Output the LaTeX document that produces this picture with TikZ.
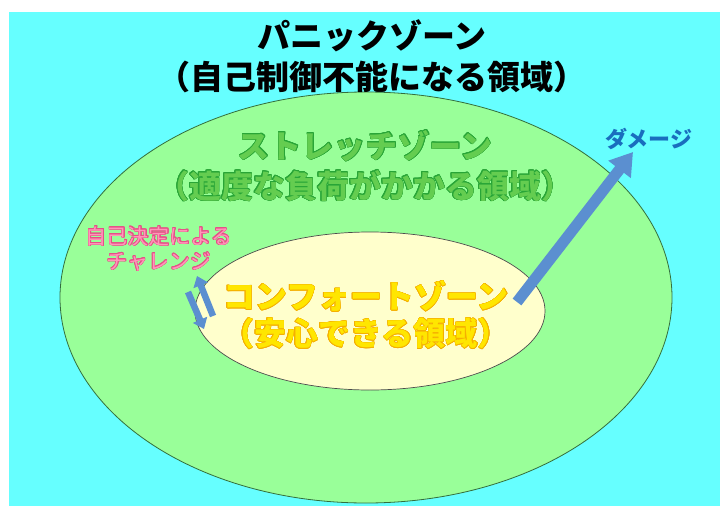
\documentclass[tikz,border=0pt]{standalone}
\usepackage{fontspec}
\usepackage[copies]{contour}
\usetikzlibrary{arrows.meta}
\newfontfamily\jp{Noto Sans CJK JP}
\definecolor{bgcyan}{RGB}{102,255,255}
\definecolor{stretchfill}{RGB}{153,255,153}
\definecolor{stretchline}{RGB}{51,110,60}
\definecolor{comfortfill}{RGB}{255,255,204}
\definecolor{arrowblue}{RGB}{91,143,208}
\definecolor{greentxt}{RGB}{100,205,80}
\definecolor{greenline}{RGB}{40,165,55}
\definecolor{yellowtxt}{RGB}{255,230,0}
\definecolor{yellowline}{RGB}{245,175,0}
\definecolor{pinktxt}{RGB}{255,150,185}
\definecolor{pinkline}{RGB}{230,80,135}
\definecolor{dmgblue}{RGB}{25,110,190}
\contourlength{0.5pt}
\contournumber{16}
\tikzset{
  zonetext/.style={inner sep=0pt, align=center, font=\jp\bfseries\fontsize{32}{40}\selectfont},
  smalltext/.style={inner sep=0pt, align=center, font=\jp\fontsize{21}{25}\selectfont},
  bigarrow/.style={draw=arrowblue, line width=11pt, -{Triangle[width=27pt,length=22pt]}},
  smallarrow/.style={draw=arrowblue, line width=6.5pt, -{Triangle[width=15pt,length=10pt]}}
}
\begin{document}
\begin{tikzpicture}[x=1pt,y=-1pt]
\useasboundingbox (0,0) rectangle (720,506);
\fill[white] (0,0) rectangle (720,506);
\fill[bgcyan] (9,12) rectangle (720,506);
% outer zone
\draw[fill=stretchfill, draw=stretchline, line width=0.8pt] (366,297.5) ellipse [x radius=306, y radius=205.5];
% inner zone
\draw[fill=comfortfill, draw=black!70, line width=0.7pt] (370,311) ellipse [x radius=175, y radius=79];
% title
\node[zonetext, font=\jp\bfseries\fontsize{33}{41}\selectfont] (panic) at (372,56) {パニックゾーン\\（自己制御不能になる領域）};
% stretch
\node[zonetext, text=greentxt] (stretch) at (365,166) {\contour{greenline}{ストレッチゾーン}\\\contour{greenline}{（適度な負荷がかかる領域）}};
% comfort
\node[zonetext, text=yellowtxt, font=\jp\bfseries\fontsize{32}{37}\selectfont] (comfort) at (366,315) {\contour{yellowline}{コンフォートゾーン}\\\contour{yellowline}{（安心できる領域）}};
% challenge
\node[smalltext, text=pinktxt] (challenge) at (159,249) {\contour{pinkline}{自己決定による}\\\contour{pinkline}{チャレンジ}};
% damage
\node[smalltext, text=dmgblue, font=\jp\bfseries\fontsize{22}{25}\selectfont] (damage) at (649,139) {ダメージ};
% arrows
\coordinate (dmgtail) at (517,302);
\coordinate (dmgtip) at (633,152);
\draw[bigarrow] (dmgtail) -- (dmgtip);
\coordinate (uptail) at (213,316);
\coordinate (uptip) at (197,276);
\coordinate (dntail) at (188,292);
\coordinate (dntip) at (204,329);
\draw[smallarrow] (uptail) -- (uptip);
\draw[smallarrow] (dntail) -- (dntip);
\end{tikzpicture}
\end{document}
